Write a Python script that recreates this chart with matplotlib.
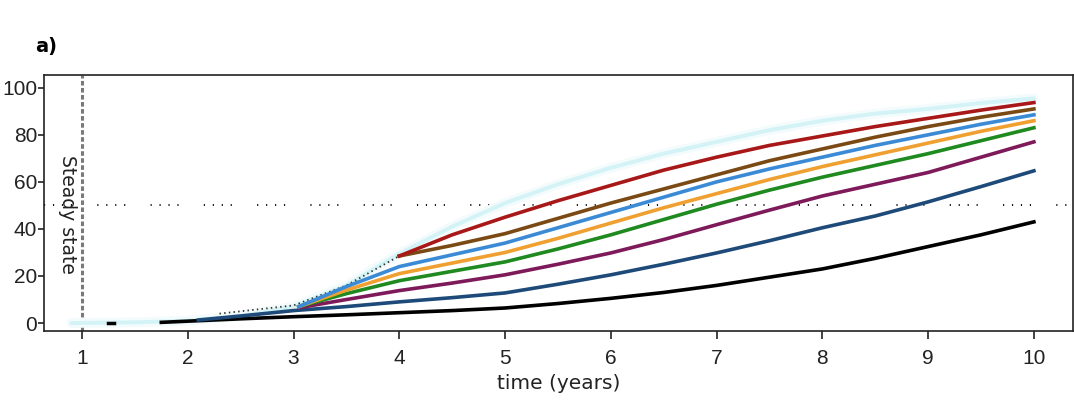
import matplotlib
matplotlib.use("Agg")
import matplotlib.pyplot as plt

# values (time in years, % of steady state)
years_red = [4, 4.5, 5, 5.5, 6, 6.5, 7, 7.5, 8, 8.5, 9, 9.5, 10]
red = [28.5, 37.5, 45, 52, 58.5, 65, 70.5, 75.5, 79.5, 83.5, 87, 90.5, 93.7]
brown = [28.5, 33, 38, 44.5, 51, 57, 63, 69, 74, 79, 83.5, 87.5, 91]

years_mid = [3.05, 3.5, 4, 4.5, 5, 5.5, 6, 6.5, 7, 7.5, 8, 8.5, 9, 9.5, 10]
blue = [7, 15.5, 24, 29, 34, 40.5, 47, 53.5, 60, 65.5, 70.5, 75.5, 80, 84.5, 88.5]
orange = [7, 14, 21, 25.5, 30, 36, 42.5, 49, 55, 61, 66.5, 71.5, 76.5, 81.5, 86]
green = [7, 12.5, 18, 22, 26, 31.5, 37.5, 44, 50.5, 56.5, 62, 67, 72, 77.5, 83]
purple = [6.5, 10, 13.8, 17, 20.5, 25, 29.8, 35.5, 41.8, 48, 54, 59, 64, 70.5, 77]

years_navy = [2.1, 2.5, 3, 3.5, 4, 4.5, 5, 5.5, 6, 6.5, 7, 7.5, 8, 8.5, 9, 9.5, 10]
navy = [1.3, 3, 5.3, 7, 9, 10.8, 12.8, 16.5, 20.5, 25, 29.8, 35, 40.5, 45.5, 51.5, 58, 64.7]

years_black = [1.75, 2, 2.5, 3, 3.5, 4, 4.5, 5, 5.5, 6, 6.5, 7, 7.5, 8, 8.5, 9, 9.5, 10]
black = [0.3, 0.8, 1.8, 2.7, 3.5, 4.4, 5.3, 6.4, 8.3, 10.5, 13, 16, 19.5, 23, 27.5, 32.5, 37.5, 43]

years_env = [0.9, 1.5, 2, 2.5, 3, 3.5, 4, 4.5, 5, 5.5, 6, 6.5, 7, 7.5, 8, 8.5, 9, 9.5, 10]
envelope = [0, 0.3, 1, 3, 7, 16, 29.5, 41, 51, 59, 66, 72, 77, 82, 86, 89, 91, 93.5, 95.5]

years_dot = [2.3, 3.0, 3.5, 4.0]
dotted = [4, 7.5, 16, 28.5]

steady_year = 1
half_level = 50
xticks = [1, 2, 3, 4, 5, 6, 7, 8, 9, 10]
yticks = [0, 20, 40, 60, 80, 100]

fig = plt.figure(figsize=(10.74, 4.18), dpi=100)
ax = fig.add_axes([0.041, 0.208, 0.958, 0.613])

ax.axhline(half_level, color='#111111', lw=1.4,
           ls=(0, (0.6, 4.0, 0.6, 4.0, 0.6, 4.0, 0.6, 13)), zorder=1)
ax.axvline(steady_year, color='#7a7a7a', lw=2.2, ls=(0, (1.5, 0.8)), zorder=1)

ax.plot(years_env, envelope, color='#f3fbfc', lw=7, solid_capstyle='round', zorder=2)
ax.plot(years_env, envelope, color='#d3f3f6', lw=2.8, solid_capstyle='round', zorder=2)
ax.plot(years_dot, dotted, color='#333333', lw=1.3, ls=(0, (0.8, 1.8)), zorder=3)

ax.plot([1.25, 1.3], [0, 0], color='black', lw=2.5, zorder=3)
ax.plot(years_black, black, color='black', lw=2.6, zorder=3)
ax.plot(years_navy, navy, color='#1d4a78', lw=2.6, zorder=3)
ax.plot(years_mid, purple, color='#7e1a5a', lw=2.6, zorder=3)
ax.plot(years_mid, green, color='#1f8a1f', lw=2.6, zorder=3)
ax.plot(years_mid, orange, color='#f0a030', lw=2.6, zorder=3)
ax.plot(years_mid, blue, color='#3a8ad6', lw=2.6, zorder=3)
ax.plot(years_red, brown, color='#7b4a14', lw=2.6, zorder=3)
ax.plot(years_red, red, color='#a81818', lw=2.6, zorder=3)

ax.text(0.86, 46, 'Steady state', rotation=270, ha='center', va='center',
        fontsize=13.5, family='DejaVu Sans', color='#222222')

ax.set_xlim(0.641, 10.369)
ax.set_ylim(-3.4, 105.5)
ax.set_xticks(xticks)
ax.set_yticks(yticks)
ax.set_xticklabels([str(t) for t in xticks], family='Liberation Sans', fontsize=15)
ax.set_yticklabels([str(t) for t in yticks], family='Liberation Sans', fontsize=15)
ax.tick_params(axis='x', length=6, width=1.2, pad=7, colors='#222222')
ax.tick_params(axis='y', length=4.5, width=1.2, pad=0.5, colors='#222222')
for s in ax.spines.values():
    s.set_linewidth(1.2)
    s.set_color('#222222')

ax.set_xlabel('time (years)', family='DejaVu Sans', fontsize=14.5, color='#222222', labelpad=4)
fig.text(0.033, 0.888, 'a)', fontsize=14, fontweight='bold', va='center', ha='left')

fig.savefig('out.png', dpi=100)
